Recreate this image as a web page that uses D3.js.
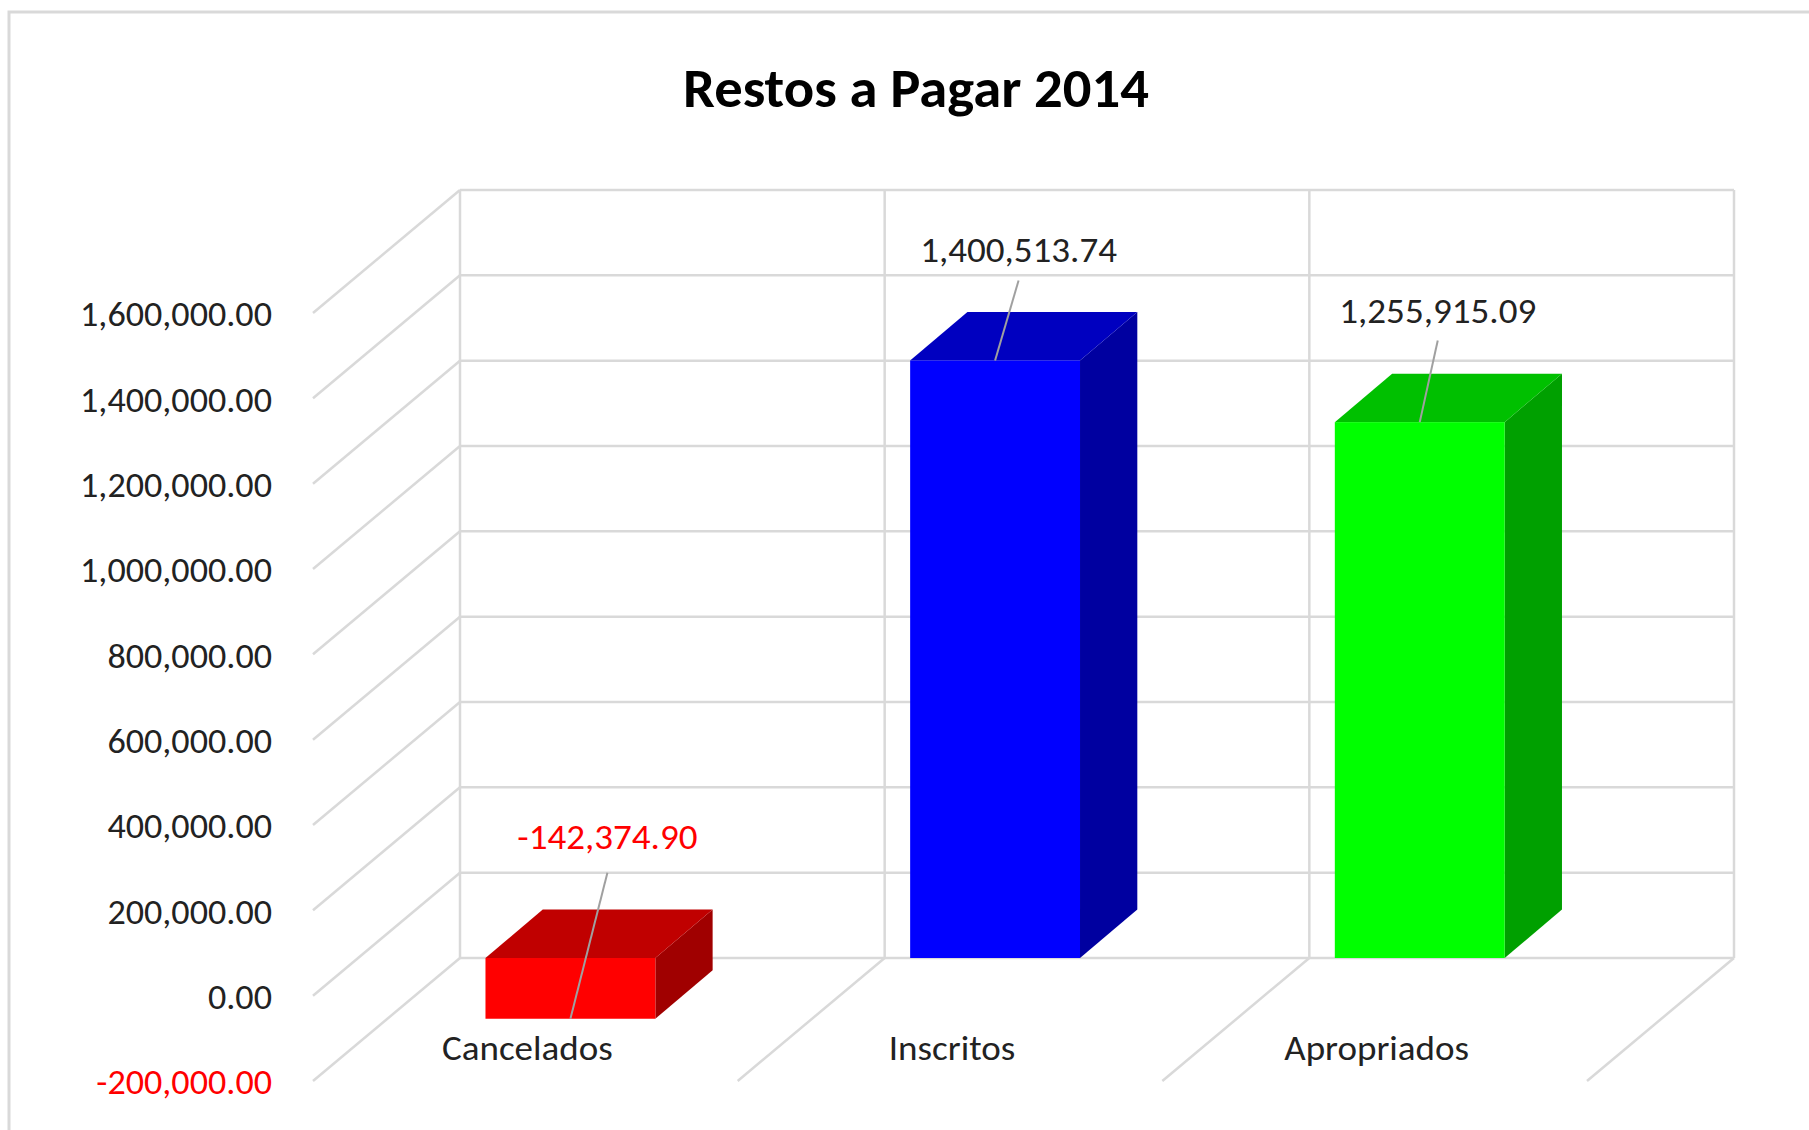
<!DOCTYPE html>
<html>
<head>
<meta charset="utf-8">
<script src="https://cdn.jsdelivr.net/npm/d3@7"></script>
<style>
html,body{margin:0;padding:0;background:#fff;overflow:hidden}
</style>
</head>
<body>
<svg id="chart" width="1809" height="1130"></svg>
<script>
// ---------------- data ----------------
const chartTitle = "Restos a Pagar 2014";
const categories = ["Cancelados", "Inscritos", "Apropriados"];
const values = [-142374.90, 1400513.74, 1255915.09];
const gridValues = [0, 200000, 400000, 600000, 800000, 1000000, 1200000, 1400000, 1600000, 1800000];
const axisLabelValues = [-200000, 0, 200000, 400000, 600000, 800000, 1000000, 1200000, 1400000, 1600000];
const frontColors = ["#ff0000", "#0000ff", "#00ff00"];
const topColors = ["#c00000", "#0000c0", "#00c000"];
const sideColors = ["#a00000", "#0000a0", "#00a000"];

// ---------------- layout ----------------
const L = {
  wallLeft: 460, wallRight: 1734, wallTop: 190, wallBottom: 958,
  depthDx: -147, depthDy: 123,        // receding direction of side wall / floor
  barDx: 57.3, barDy: -48.5,          // bar depth
  barOffset: 0.06, barWidth: 0.4,     // fraction of band
  axisRight: 272, axisBaselineShift: 50.5,
  catBaseline: 1060, catShift: 2,
  titleX: 916, titleBaseline: 107,
  labelDx: [37, 23.5, 18], labelDy: [-170, -98, -98.7], leaderGap: [24, 18, 17],
  targetAxisW: 192, targetDataW: 197, targetCatW: 185, targetTitleW: 466
};
const FONT = "Carlito, Lato, 'Open Sans', sans-serif";
const gridColor = "#d9d9d9";
const textColor = "#222222";

const fmtLocale = d3.formatLocale({decimal: ".", thousands: ",", grouping: [3], currency: ["", ""], minus: "-"});
const fmt = fmtLocale.format(",.2f");

const svg = d3.select("#chart");

// outer chart border (only top & left visible)
svg.append("rect").attr("x", 9).attr("y", 12).attr("width", 2000).attr("height", 1400)
  .attr("fill", "#fff").attr("stroke", gridColor).attr("stroke-width", 3);

// scales
const y = d3.scaleLinear().domain([0, 1800000]).range([L.wallBottom, L.wallTop]);
const x = d3.scaleBand().domain(categories).range([L.wallLeft, L.wallRight]).padding(0);
const bw = x.bandwidth();

const grid = svg.append("g").attr("stroke", gridColor).attr("stroke-width", 2.5).attr("fill", "none");

// back wall horizontal gridlines
grid.selectAll("line.h").data(gridValues).join("line").attr("class", "h")
  .attr("x1", L.wallLeft).attr("x2", L.wallRight)
  .attr("y1", d => y(d)).attr("y2", d => y(d));
// back wall vertical lines
const vxs = categories.map(c => x(c)).concat([L.wallRight]);
grid.selectAll("line.v").data(vxs).join("line").attr("class", "v")
  .attr("x1", d => d).attr("x2", d => d)
  .attr("y1", y(1800000)).attr("y2", y(0));
// side wall receding lines
grid.selectAll("line.s").data(gridValues).join("line").attr("class", "s")
  .attr("x1", L.wallLeft).attr("y1", d => y(d))
  .attr("x2", L.wallLeft + L.depthDx).attr("y2", d => y(d) + L.depthDy);
// floor receding lines
grid.selectAll("line.f").data(vxs.slice(1)).join("line").attr("class", "f")
  .attr("x1", d => d).attr("y1", y(0))
  .attr("x2", d => d + L.depthDx).attr("y2", y(0) + L.depthDy);

// ---------------- bars ----------------
const bars = svg.append("g");
categories.forEach((c, i) => {
  const v = values[i];
  const xl = x(c) + L.barOffset * bw;
  const xr = xl + L.barWidth * bw;
  const yT = Math.min(y(0), y(v));
  const yB = Math.max(y(0), y(v));
  const g = bars.append("g");
  g.append("polygon")
    .attr("points", [[xr, yT], [xr + L.barDx, yT + L.barDy], [xr + L.barDx, yB + L.barDy], [xr, yB]].join(" "))
    .attr("fill", sideColors[i]);
  g.append("polygon")
    .attr("points", [[xl, yT], [xl + L.barDx, yT + L.barDy], [xr + L.barDx, yT + L.barDy], [xr, yT]].join(" "))
    .attr("fill", topColors[i]);
  g.append("rect").attr("x", xl).attr("y", yT).attr("width", xr - xl).attr("height", yB - yT)
    .attr("fill", frontColors[i]);
});

// helper: condense text horizontally so a reference string reaches the target width
function measure(str, size, weight) {
  const t = svg.append("text").attr("font-family", FONT).attr("font-size", size)
    .attr("font-weight", weight || "normal").text(str);
  const w = t.node().getComputedTextLength();
  t.remove();
  return w;
}
const axisF = L.targetAxisW / measure("1,600,000.00", 35);
const dataF = L.targetDataW / measure("1,400,513.74", 34.5);
const catF = L.targetCatW / measure("Apropriados", 35);
const titleF = L.targetTitleW / measure(chartTitle, 54, "bold");

// ---------------- value axis labels ----------------
const yFront = d3.scaleLinear().domain(y.domain()).range(y.range().map(r => r + L.axisBaselineShift));
const yAxis = d3.axisLeft(yFront).tickValues(axisLabelValues).tickSize(0).tickPadding(0).tickFormat(fmt);
const yAxisG = svg.append("g").attr("transform", `translate(${L.axisRight},0)`).call(yAxis);
yAxisG.select(".domain").remove();
yAxisG.attr("font-family", FONT).attr("font-size", 35);
yAxisG.selectAll(".tick text")
  .attr("x", 0).attr("dy", 0)
  .attr("text-anchor", "end")
  .attr("transform", `scale(${axisF},1)`)
  .attr("fill", d => d < 0 ? "#ff0000" : textColor);

// ---------------- category axis labels ----------------
const xFront = d3.scaleBand().domain(categories)
  .range([L.wallLeft + L.depthDx + L.catShift, L.wallRight + L.depthDx + L.catShift]).padding(0);
const xAxis = d3.axisBottom(xFront).tickSize(0).tickPadding(0);
const xAxisG = svg.append("g").attr("transform", `translate(0,${L.catBaseline})`).call(xAxis);
xAxisG.select(".domain").remove();
xAxisG.attr("font-family", FONT).attr("font-size", 35);
xAxisG.selectAll(".tick text")
  .attr("y", 0).attr("dy", 0)
  .attr("transform", `scale(${catF},1)`)
  .attr("fill", textColor);

// ---------------- data labels with leader lines ----------------
const lbl = svg.append("g");
categories.forEach((c, i) => {
  const v = values[i];
  const cx = x(c) + L.barOffset * bw + L.barWidth * bw / 2;
  const vy = y(v);
  const lx = cx + L.labelDx[i];
  const ly = vy + L.labelDy[i];
  lbl.append("line")
    .attr("x1", lx).attr("y1", ly + L.leaderGap[i])
    .attr("x2", cx).attr("y2", vy)
    .attr("stroke", "#a0a0a0").attr("stroke-width", 2);
  lbl.append("g").attr("transform", `translate(${lx},${ly})`)
    .append("text")
    .attr("text-anchor", "middle")
    .attr("font-family", FONT).attr("font-size", 34.5)
    .attr("transform", `scale(${dataF},1)`)
    .attr("fill", v < 0 ? "#ff0000" : textColor)
    .text(fmt(v));
});

// ---------------- title ----------------
svg.append("g").attr("transform", `translate(${L.titleX},${L.titleBaseline})`)
  .append("text")
  .attr("text-anchor", "middle")
  .attr("font-family", FONT).attr("font-size", 54).attr("font-weight", "bold")
  .attr("transform", `scale(${titleF},1)`)
  .attr("fill", "#000")
  .text(chartTitle);
</script>
</body>
</html>
